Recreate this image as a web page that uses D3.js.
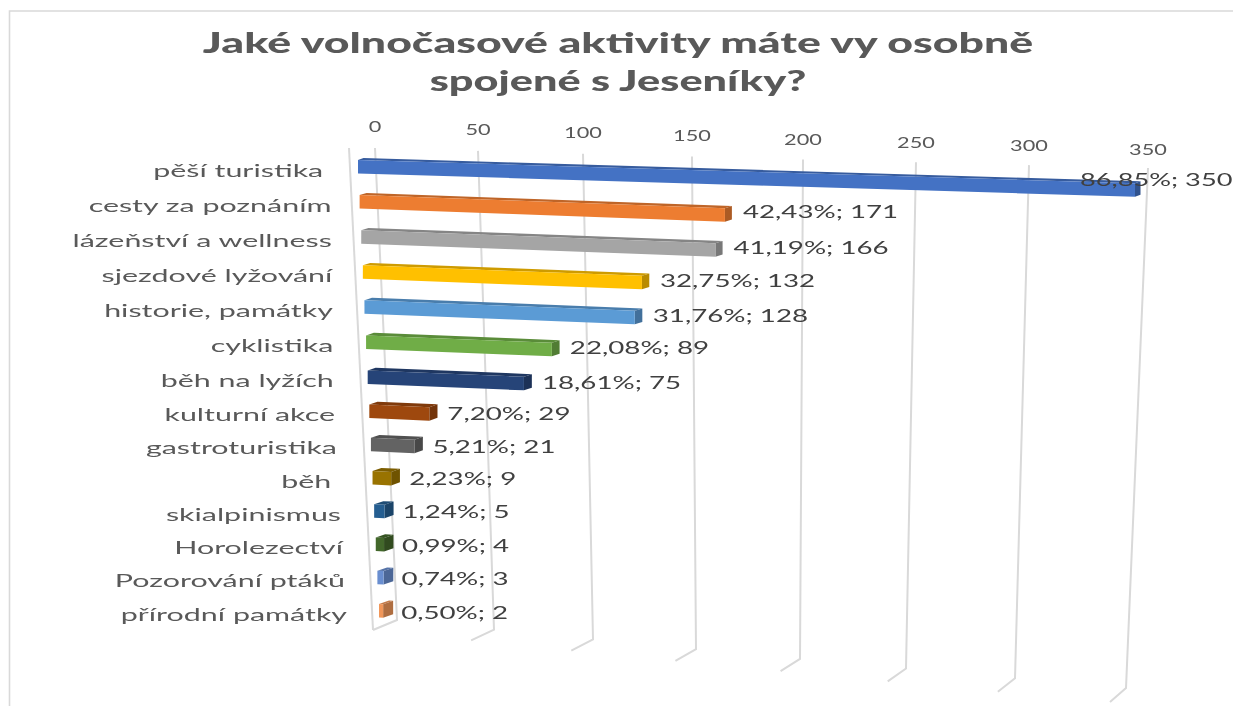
<!DOCTYPE html>
<html lang="cs"><head><meta charset="utf-8">
<script src="https://cdn.jsdelivr.net/npm/d3@7"></script>
<style>
html,body{margin:0;padding:0;background:#fff;overflow:hidden}
svg{display:block;filter:blur(0.45px)}
text{font-family:Lato,"Open Sans",sans-serif;white-space:pre}
</style></head><body>
<script>
const titleLines = ["Jaké volnočasové aktivity máte vy osobně", "spojené s Jeseníky?"];
const categories = ["pěší turistika ", "cesty za poznáním", "lázeňství a wellness", "sjezdové lyžování", "historie, památky", "cyklistika", "běh na lyžích", "kulturní akce", "gastroturistika", "běh ", "skialpinismus", "Horolezectví", "Pozorování ptáků", "přírodní památky"];
const counts = [350, 171, 166, 132, 128, 89, 75, 29, 21, 9, 5, 4, 3, 2];
const percents = ["86,85%", "42,43%", "41,19%", "32,75%", "31,76%", "22,08%", "18,61%", "7,20%", "5,21%", "2,23%", "1,24%", "0,99%", "0,74%", "0,50%"];
const colors = ["#4472C4", "#ED7D31", "#A5A5A5", "#FFC000", "#5B9BD5", "#70AD47", "#264478", "#9E480E", "#636363", "#997300", "#255E91", "#43682B", "#698ED0", "#F1975A"];
const axisTicks = [0, 50, 100, 150, 200, 250, 300, 350];

const W = 1233, H = 706;
const svg = d3.select("body").append("svg").attr("width", W).attr("height", H);

// Hand-fitted perspective of the tilted plot
const backTopX = d3.scaleLinear().domain(axisTicks).range([375, 478, 583, 692, 803, 916, 1029, 1148]);
const backTopY = d3.scaleLinear().domain([0, 350]).range([148, 168]);
const backBotX = d3.scaleLinear().domain(axisTicks).range([397, 494, 593, 696, 800, 906, 1015, 1126]);
const backBotY = d3.scaleLinear().domain([0, 350]).range([620, 688]);
const footDX = d3.scaleLinear().domain([0, 350]).range([-24, -16]);
const footDY = d3.scaleLinear().domain([0, 350]).range([10, 14]);
const tickLabelY = d3.scaleLinear().domain([0, 350]).range([126, 149]);
const barLen = d3.scaleLinear().domain(axisTicks).range([0, 103.5, 209, 318.5, 430, 544, 657, 777]);

const rowIndex = d3.scalePoint().domain(categories).range([0, 1]);
const rowY = d3.scaleLinear().domain([0, 0.5, 1]).range([160, 388, 604]);
const rowX = d3.scaleLinear().domain([0, 1]).range([358, 379]);
const rowSlope = d3.scaleLinear().domain([0, 0.08, 1]).range([0.03, 0.036, 0.048]);
const depthX = d3.scaleLinear().domain([0, 0.08, 0.5, 1]).range([5.5, 7, 8, 10]);
const depthY = d3.scaleLinear().domain([0, 1]).range([2, 3.5]);
const labelEnd = d3.scaleLinear().domain([0, 0.5, 1]).range([331, 334, 347]);
const labelDY = d3.scaleLinear().domain([0, 1]).range([-3, 2]);
const BAR_H = 13.5;

// Outer frame
svg.append("path").attr("d", `M${W},11H9.5V${H}`).attr("fill", "none").attr("stroke", "#d9d9d9").attr("stroke-width", 1.6);

// Title
svg.selectAll("text.title").data(titleLines).join("text").attr("class", "title")
  .attr("transform", (d, i) => `translate(618,${[53, 91][i]}) scale(${[1.593, 1.545][i]},1)`)
  .attr("text-anchor", "middle").attr("font-size", 28).attr("font-weight", 900).attr("fill", "#595959").text(d => d);

// Gridlines with floor foot
const grid = svg.append("g").attr("fill", "none").attr("stroke", "#d9d9d9").attr("stroke-width", 2);
grid.selectAll("path").data(axisTicks).join("path")
  .attr("d", v => {
    const bx = backBotX(v), by = backBotY(v);
    return `M${backTopX(v)},${backTopY(v)}L${bx},${by}L${bx + footDX(v)},${by + footDY(v)}`;
  });
grid.append("path").attr("d", `M${backTopX(0) - 26},${backTopY(0)}L${backBotX(0) + footDX(0)},${backBotY(0) + footDY(0)}`);

// Axis tick labels
svg.selectAll("text.tick").data(axisTicks).join("text").attr("class", "tick")
  .attr("transform", v => `translate(${backTopX(v)},${tickLabelY(v) + 5.5}) scale(1.45,1)`)
  .attr("text-anchor", "middle").attr("font-size", 15).attr("fill", "#595959").text(v => v);

// Bars
const rows = categories.map((name, i) => {
  const t = rowIndex(name);
  const x0 = rowX(t), y0 = rowY(t);
  const x1 = x0 + barLen(counts[i]), y1 = y0 + (x1 - x0) * rowSlope(t);
  return { name, i, t, x0, y0, x1, y1, dx: depthX(t), dy: depthY(t), c: colors[i], n: counts[i], p: percents[i] };
});
const bars = svg.selectAll("g.bar").data(rows).join("g").attr("class", "bar");
bars.append("path").attr("fill", d => d3.color(d.c).darker(0.6))
  .attr("d", d => `M${d.x0},${d.y0}L${d.x0 + d.dx},${d.y0 - d.dy}L${d.x1 + d.dx},${d.y1 - d.dy}L${d.x1},${d.y1}Z`);
bars.append("path").attr("fill", d => d3.color(d.c).darker(0.9))
  .attr("d", d => `M${d.x1},${d.y1}L${d.x1 + d.dx},${d.y1 - d.dy}L${d.x1 + d.dx},${d.y1 - d.dy + BAR_H}L${d.x1},${d.y1 + BAR_H}Z`);
bars.append("path").attr("fill", d => d.c)
  .attr("d", d => `M${d.x0},${d.y0}L${d.x1},${d.y1}L${d.x1},${d.y1 + BAR_H}L${d.x0},${d.y0 + BAR_H}Z`);

// Category labels
svg.selectAll("text.cat").data(rows).join("text").attr("class", "cat")
  .attr("transform", d => `translate(${labelEnd(d.t)},${d.y0 + 16.5}) scale(1.69,1)`)
  .attr("text-anchor", "end").attr("font-size", 18).attr("fill", "#595959").text(d => d.name);

// Value labels (the first one was moved above the bar end in the reference)
svg.selectAll("text.val").data(rows).join("text").attr("class", "val")
  .attr("transform", d => {
    const cy = d.y1 + BAR_H / 2;
    return d.i === 0
      ? `translate(${d.x1 - 55},${cy - 4}) scale(1.6,1)`
      : `translate(${d.x1 + 18},${cy + labelDY(d.t) + 6}) scale(1.63,1)`;
  })
  .attr("font-size", 17).attr("fill", "#404040").text(d => `${d.p}; ${d.n}`);
</script>
</body></html>
